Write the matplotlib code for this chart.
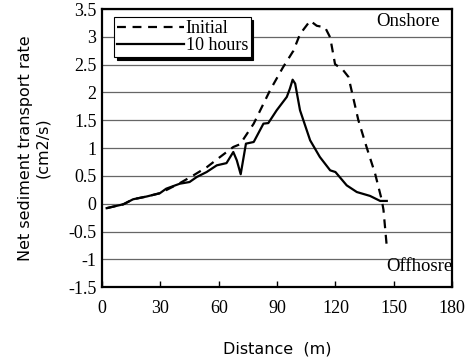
import numpy as np
import matplotlib
matplotlib.use("Agg")
import matplotlib.pyplot as plt

# Initial profile (dashed)
xInitial = [2.4, 11, 16, 23, 30, 40, 47, 54, 60.7, 67.5, 71, 78, 86.4, 93, 98.4,
            101.8, 107, 110.4, 114.7, 117.3, 119.8, 124, 126.7, 131.8, 136,
            140.4, 143.8, 144.7, 146.4]
yInitial = [-0.08, -0.01, 0.08, 0.13, 0.19, 0.37, 0.51, 0.66, 0.84, 1.02, 1.07,
            1.44, 2.04, 2.45, 2.75, 3.05, 3.29, 3.2, 3.17, 2.99, 2.51, 2.40,
            2.28, 1.5, 1.02, 0.54, 0.07, -0.11, -0.77]

# After 10 hours (solid)
x10h = [2.4, 11, 16, 23, 29.8, 33, 40, 45, 48.7, 53.8, 59, 64, 67.5, 69.3, 71.3,
        74, 78, 83, 85.5, 89.8, 95, 96.6, 98, 99.3, 101.8, 107, 112, 117.3,
        120, 125.8, 131, 137.8, 143, 146.4]
y10h = [-0.08, -0.01, 0.08, 0.13, 0.19, 0.27, 0.36, 0.39, 0.48, 0.57, 0.69, 0.73,
        0.93, 0.78, 0.53, 1.08, 1.11, 1.44, 1.45, 1.68, 1.92, 2.07, 2.23, 2.16,
        1.68, 1.14, 0.84, 0.60, 0.57, 0.33, 0.21, 0.14, 0.05, 0.05]

xTicks = [0, 30, 60, 90, 120, 150, 180]
yTicks = [-1.5, -1, -0.5, 0, 0.5, 1, 1.5, 2, 2.5, 3, 3.5]
yTickLabels = ["-1.5", "-1", "-0.5", "0", "0.5", "1", "1.5", "2", "2.5", "3", "3.5"]

fig = plt.figure(figsize=(4.7, 3.63), dpi=100)
ax = fig.add_axes([0.217, 0.209, 0.745, 0.766])

ax.plot(xInitial, yInitial, color="black", linestyle=(0, (4, 3)), linewidth=1.6,
        label="Initial")
ax.plot(x10h, y10h, color="black", linestyle="-", linewidth=1.6, label="10 hours")

ax.set_xlim(0, 180)
ax.set_ylim(-1.5, 3.5)
ax.set_xticks(xTicks)
ax.set_yticks(yTicks)
ax.set_yticklabels(yTickLabels)
ax.tick_params(axis="x", direction="in", length=4, width=1, pad=9)
ax.tick_params(axis="y", length=0, pad=4)
for lbl in ax.get_xticklabels() + ax.get_yticklabels():
    lbl.set_fontfamily("Liberation Serif")
    lbl.set_fontsize(13)

ax.yaxis.grid(True, color="#666666", linewidth=0.9)
ax.set_axisbelow(True)
for s in ax.spines.values():
    s.set_linewidth(1.6)

ax.set_xlabel("Distance  (m)", fontsize=11.5, labelpad=18)
ax.set_ylabel("Net sediment transport rate\n(cm2/s)", fontsize=11.5, labelpad=13)

ax.text(0.965, 0.955, "Onshore", transform=ax.transAxes, ha="right", va="center",
        fontsize=13.5, fontfamily="Liberation Serif")
ax.text(1.0, 0.075, "Offhosre", transform=ax.transAxes, ha="right", va="center",
        fontsize=13.5, fontfamily="Liberation Serif")

leg = ax.legend(loc="upper left", bbox_to_anchor=(0.035, 0.97), frameon=True,
                fancybox=False, shadow={"color": "black", "alpha": 1},
                prop={"family": "Liberation Serif", "size": 13},
                handlelength=3.7, handletextpad=0.1, borderpad=0.15,
                labelspacing=0.0, borderaxespad=0)
leg.get_frame().set_edgecolor("black")
leg.get_frame().set_linewidth(0.8)

fig.savefig("out.png", dpi=100)
